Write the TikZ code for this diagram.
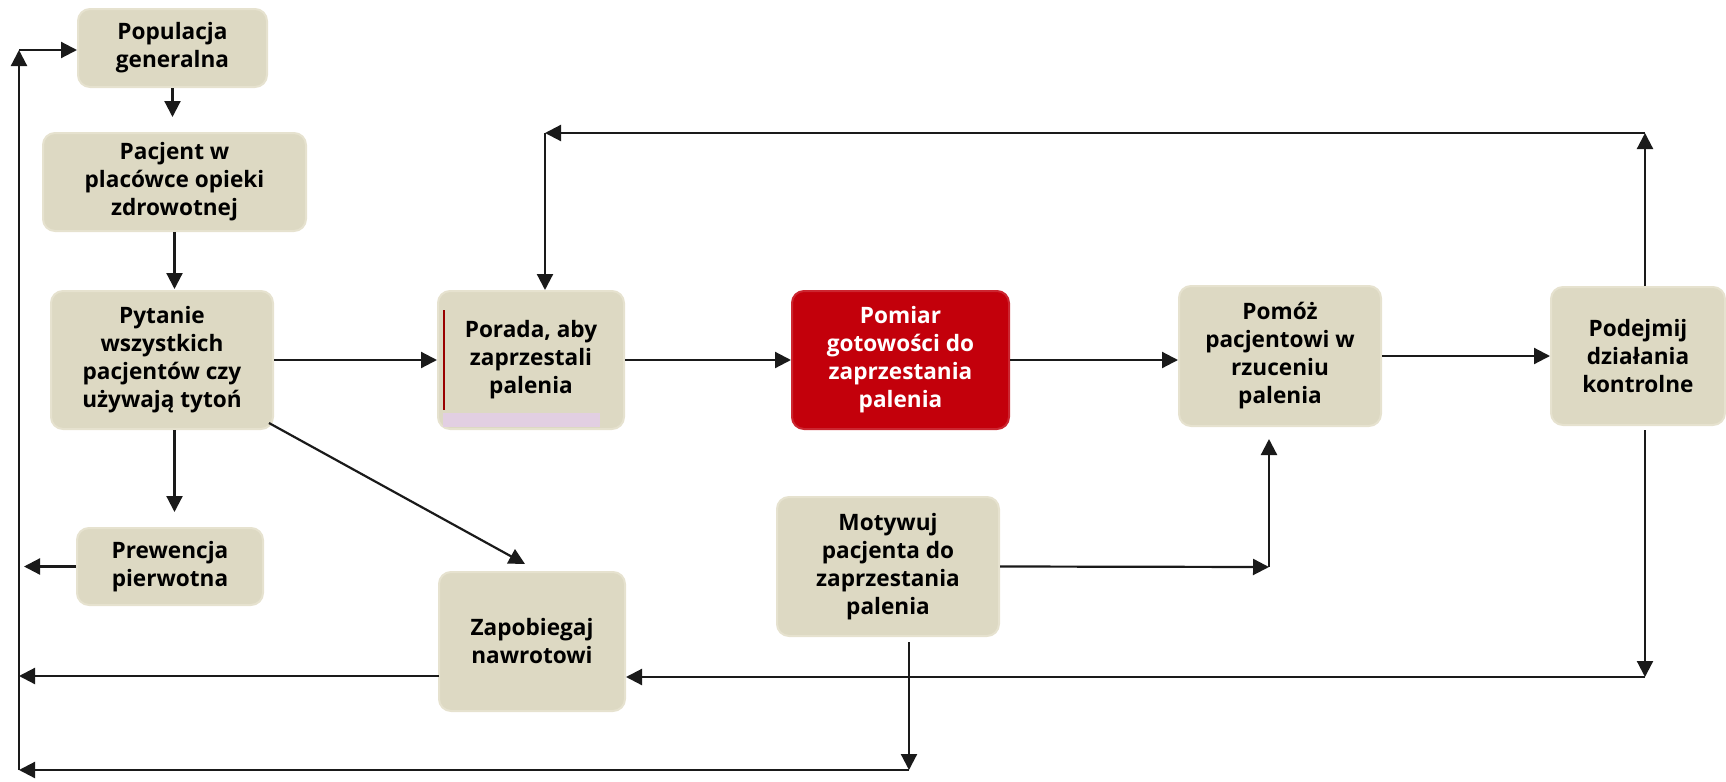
\documentclass[tikz,border=0pt]{standalone}
\usepackage{fontspec}
\setmainfont{Open Sans}
\usetikzlibrary{arrows.meta}
\definecolor{boxc}{HTML}{DDD9C3}
\definecolor{boxlt}{HTML}{E6E2CF}
\definecolor{redc}{HTML}{C3000B}
\definecolor{linec}{HTML}{1A1A1A}
\definecolor{lilac}{HTML}{E2CFE2}
\tikzset{
  box/.style={rectangle, rounded corners=6pt, fill=boxc, draw=boxlt, line width=1pt,
    inner sep=0pt, align=center, font=\fontsize{11.3}{14}\selectfont\bfseries, text=black},
  redbox/.style={box, fill=redc, draw=redc!85!white, text=white},
  arr/.style={draw=linec, line width=1.1pt, -{Triangle[length=8pt,width=8pt]}},
}
\begin{document}
\begin{tikzpicture}[x=0.5pt,y=-0.5pt]
\useasboundingbox (0,0) rectangle (1726,782);
% boxes
\node[box, minimum width=94.5pt, minimum height=39pt] (pop) at (172.5,48) {Populacja\\generalna};
\node[box, minimum width=131.5pt, minimum height=49pt] (pac) at (174.5,182) {Pacjent w\\placówce opieki\\zdrowotnej};
\node[box, minimum width=111pt, minimum height=69pt] (pyt) at (162,360) {Pytanie\\wszystkich\\pacjentów czy\\używają tytoń};
\node[box, minimum width=93pt, minimum height=69pt] (por) at (531,360) {Porada, aby\\zaprzestali\\palenia};
\node[redbox, minimum width=108.5pt, minimum height=69pt] (pom) at (900.5,360) {Pomiar\\gotowości do\\zaprzestania\\palenia};
\node[box, minimum width=101pt, minimum height=70pt] (pmz) at (1280,356) {Pomóż\\pacjentowi w\\rzuceniu\\palenia};
\node[box, minimum width=87pt, minimum height=69pt] (pod) at (1638,356) {Podejmij\\działania\\kontrolne};
\node[box, minimum width=93pt, minimum height=38.5pt] (pre) at (170,566.5) {Prewencja\\pierwotna};
\node[box, minimum width=93pt, minimum height=69.5pt] (zap) at (532,641.5) {Zapobiegaj\\nawrotowi};
\node[box, minimum width=111pt, minimum height=69.5pt] (mot) at (888,566.5) {Motywuj\\pacjenta do\\zaprzestania\\palenia};
% artifacts on Porada box
\fill[lilac] (443,413) rectangle (600,427);
\draw[draw=red!60!black, line width=1.2pt] (444,310) -- (444,410);
% coordinates
\coordinate (tr) at (1645,133);
\coordinate (tl) at (545,133);
\coordinate (lt) at (19,50);
\coordinate (lb) at (19,770);
\coordinate (bm) at (909,770);
\coordinate (br) at (1645,677);
\coordinate (mr) at (1269,567);
\coordinate (zl) at (439,676);
% connectors
\draw[arr, shorten >=7.5pt] (pop.south) -- (pop.south |- pac.north);
\draw[arr, shorten >=0.5pt] (pac.south) -- (pac.south |- pyt.north);
\draw[arr] (pyt.east) -- (por.west);
\draw[arr] (por.east) -- (pom.west);
\draw[arr] (pom.east) -- (pom.east -| pmz.west);
\draw[arr] (pmz.east) -- (pod.west);
\draw[arr] (tr |- pod.north) -- (tr);
\draw[arr] (tr) -- (tl);
\draw[arr] (tl) -- (tl |- por.north);
\draw[arr, shorten >=7.5pt] (pac.south |- pyt.south) -- (pac.south |- pre.north);
\draw[arr, shorten >=2.5pt] (pre.west) -- (lt |- pre.west);
\draw[arr] ([shift={(-5,-7)}]pyt.south east) -- ([shift={(-7,-7)}]zap.north);
\draw[arr] (zl) -- (lt |- zl);
\draw[arr, shorten <=2pt] (br |- pod.south) -- (br);
\draw[arr] (br) -- (zap.east |- br);
\draw[arr] (mot.east) -- (mr);
\draw[arr, shorten >=6pt] (mr) -- (mr |- pmz.south);
\draw[arr, shorten <=2.5pt] (bm |- mot.south) -- (bm);
\draw[arr] (bm) -- (lb);
\draw[arr] (lb) -- (lt);
\draw[arr] (lt) -- (pop.west |- lt);
\end{tikzpicture}
\end{document}
